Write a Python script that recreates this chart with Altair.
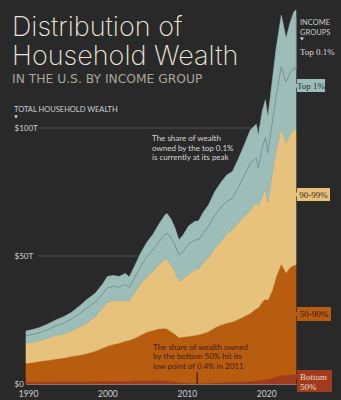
import altair as alt
import pandas as pd

# ---------------- data (trillions of US$) ----------------
years = [1989.75, 1990.5, 1991.5, 1992.5, 1993.5, 1994.5, 1995.5, 1996.5, 1997.5, 1998.5,
         1999.5, 2000.0, 2000.75, 2001.5, 2002.25, 2002.75, 2003.5, 2004.25, 2005.0, 2005.75,
         2006.5, 2007.25, 2007.5, 2008.0, 2008.5, 2009.0, 2009.5, 2010.25, 2011.0, 2011.5,
         2012.0, 2012.75, 2013.5, 2014.25, 2015.0, 2015.75, 2016.5, 2017.25, 2018.0, 2018.75,
         2019.0, 2019.5, 2019.9, 2020.2, 2020.75, 2021.25, 2021.9, 2022.5, 2023.0, 2023.5, 2023.75]

bottom50 = [0.8, 0.8, 0.85, 0.85, 0.9, 0.9, 0.95, 1.0, 1.0, 1.1,
            1.1, 1.15, 1.2, 1.2, 1.2, 1.2, 1.25, 1.3, 1.35, 1.4,
            1.4, 1.35, 1.3, 1.1, 0.9, 0.6, 0.5, 0.4, 0.3, 0.25,
            0.35, 0.4, 0.5, 0.6, 0.7, 0.8, 0.9, 1.0, 1.1, 1.3,
            1.4, 1.6, 1.75, 1.9, 2.3, 2.8, 3.4, 3.5, 3.6, 3.7, 3.7]

p50_90 = [7.3, 7.6, 8.05, 8.45, 8.9, 9.3, 9.85, 10.3, 11.0, 11.8,
          13.1, 13.65, 14.3, 14.8, 15.6, 15.9, 16.75, 17.9, 18.95, 19.6,
          20.2, 20.45, 20.3, 19.4, 18.6, 17.6, 17.9, 18.3, 18.7, 19.05,
          19.35, 20.1, 21.5, 22.4, 23.1, 23.5, 24.4, 25.5, 26.5, 28.2,
          28.4, 30.4, 31.45, 30.9, 34.2, 39.2, 43.6, 40.0, 41.9, 42.8, 42.8]

p90_99 = [7.8, 7.9, 8.1, 8.7, 9.1, 9.3, 10.0, 11.0, 12.0, 13.6,
          16.0, 17.0, 17.1, 16.5, 15.9, 15.2, 18.0, 20.3, 21.7, 23.0,
          25.2, 26.9, 27.5, 26.0, 24.5, 22.0, 22.6, 24.3, 25.8, 25.7,
          27.6, 29.0, 31.0, 32.5, 34.7, 36.2, 37.7, 39.0, 40.4, 41.5,
          39.7, 41.5, 43.1, 37.8, 45.5, 49.0, 52.9, 50.5, 52.0, 53.0, 52.8]

top1_ex = [3.0, 3.0, 3.1, 3.2, 3.8, 4.3, 4.6, 5.2, 5.9, 5.5,
           5.4, 5.8, 5.5, 5.3, 6.2, 5.4, 6.0, 6.8, 7.8, 8.4,
           8.8, 9.8, 9.8, 10.8, 10.3, 10.2, 10.6, 11.8, 11.4, 11.4,
           11.5, 12.2, 12.9, 13.3, 12.8, 12.1, 13.8, 16.0, 18.3, 17.3,
           14.9, 19.0, 20.0, 19.7, 20.0, 21.5, 24.1, 24.0, 24.0, 23.9, 23.7]

top01 = [1.8, 1.9, 2.0, 2.2, 2.3, 2.5, 2.6, 3.0, 3.3, 3.5,
         3.9, 4.4, 4.3, 4.2, 4.3, 4.1, 4.5, 5.2, 5.7, 6.1,
         6.9, 7.5, 7.7, 7.2, 6.7, 5.9, 6.4, 7.0, 7.3, 7.4,
         7.9, 8.3, 9.1, 9.7, 10.2, 10.4, 11.2, 12.0, 12.9, 13.2,
         12.6, 14.0, 14.7, 13.7, 16.0, 18.5, 20.0, 17.0, 19.5, 22.1, 23.0]

groups = ["Bottom 50%", "50-90%", "90-99%", "Top 1%", "Top 0.1%"]
colors = ["#a03c1d", "#b85d10", "#e6c27c", "#9dbeb8", "#9dbeb8"]
x_ticks = [1990, 2000, 2010, 2020]
y_ticks = [0, 50, 100]

series = [bottom50, p50_90, p90_99, top1_ex, top01]
rows = []
for gi, (g, vals) in enumerate(zip(groups, series)):
    for yr, v in zip(years, vals):
        rows.append({"year": yr, "group": g, "ord": gi, "value": v})
df = pd.DataFrame(rows)

line_df = pd.DataFrame({
    "year": years,
    "level": [a + b + c + d for a, b, c, d in zip(bottom50, p50_90, p90_99, top1_ex)],
})

# ---------------- layout constants ----------------
X0 = 26          # left padding (absolute x of plot origin)
W, H = 270, 384
BG = "#292929"
one = pd.DataFrame({"k": [0]})

xscale = alt.Scale(domain=[1989.75, 2023.75], nice=False, zero=False)
yscale = alt.Scale(domain=[0, 150], nice=False)


def txt(s, x, y, size, color, font="Lato", weight="normal", align="left",
        baseline="alphabetic", lh=None):
    kw = dict(text=s, align=align, baseline=baseline, font=font, fontSize=size,
              color=color, fontWeight=weight)
    if lh is not None:
        kw["lineHeight"] = lh
    return alt.Chart(one).mark_text(**kw).encode(x=alt.value(x - X0), y=alt.value(y))


def box(x1, x2, y1, y2, color):
    return alt.Chart(one).mark_rect(color=color).encode(
        x=alt.value(x1 - X0), x2=alt.value(x2 - X0), y=alt.value(y1), y2=alt.value(y2))


def pointer(x, y, color):
    return alt.Chart(one).mark_point(shape="triangle-left", filled=True, size=22,
                                     color=color, opacity=1).encode(
        x=alt.value(x - X0), y=alt.value(y))


def tri_down(x, y, color):
    return alt.Chart(one).mark_point(shape="triangle-down", filled=True, size=14,
                                     color=color, opacity=1).encode(
        x=alt.value(x - X0), y=alt.value(y))


def seg(x1, x2, y1, y2, color, w=0.8):
    return alt.Chart(one).mark_rule(color=color, strokeWidth=w).encode(
        x=alt.value(x1 - X0), x2=alt.value(x2 - X0), y=alt.value(y1), y2=alt.value(y2))


grid = alt.Chart(pd.DataFrame({"g": [50, 100]})).mark_rule(
    color="#5c5c5c", strokeWidth=0.8).encode(
    y=alt.Y("g:Q", scale=yscale), x=alt.value(38 - X0), x2=alt.value(W))

cscale = alt.Scale(domain=groups, range=colors)
areas = alt.Chart(df).mark_area(interpolate="linear", strokeWidth=0.6).encode(
    x=alt.X("year:Q", scale=xscale, title=None,
            axis=alt.Axis(values=x_ticks, format="d", ticks=False, grid=False,
                          domain=True, domainColor="#8a8a8a", domainWidth=1,
                          labelColor="#cfcfcf", labelFontSize=8.5, labelFont="Lato",
                          labelPadding=5)),
    y=alt.Y("value:Q", stack="zero", scale=yscale, title=None,
            axis=alt.Axis(values=y_ticks, ticks=False, grid=False, domain=False,
                          labelAlign="left", labelPadding=12, labelBaseline="middle",
                          labelColor="#d2d2d2", labelFontSize=8, labelFont="Lato",
                          labelExpr="datum.value == 0 ? '$0' : '$' + datum.value + 'T'")),
    color=alt.Color("group:N", scale=cscale, legend=None),
    stroke=alt.Stroke("group:N", scale=cscale, legend=None),
    order=alt.Order("ord:Q", sort="ascending"),
)

top_line = alt.Chart(line_df).mark_line(color="#7b9592", strokeWidth=1).encode(
    x=alt.X("year:Q", scale=xscale), y=alt.Y("level:Q", scale=yscale))

marker = alt.Chart(one).mark_rule(color="#3a1806", strokeWidth=1.2).encode(
    x=alt.datum(2011.3), y=alt.datum(0), y2=alt.datum(4.5))

layers = [
    grid, areas, top_line, marker,
    txt(["Distribution of", "Household Wealth"], 12, 36, 27, "#ebe6da",
        font="Inter", weight=200, lh=29),
    txt("IN THE U.S. BY INCOME GROUP", 12, 83, 12.3, "#a9a59b", font="DejaVu Sans"),
    txt("TOTAL HOUSEHOLD WEALTH", 14, 112, 7.5, "#d0d0d0"),
    tri_down(16, 117, "#e0e0e0"),
    txt(["The share of wealth", "owned by the top 0.1%", "is currently at its peak"],
        152, 141, 8, "#d6d6d6", lh=9.7),
    txt(["The share of wealth owned", "by the bottom 50% hit its", "low point of 0.4% in 2011"],
        153, 349.5, 8, "#43200a", lh=9.5),
    # right-hand legend
    txt(["INCOME", "GROUPS"], 300, 25, 7.5, "#c9c9c9", lh=9.5),
    tri_down(302, 39, "#e0e0e0"),
    seg(296, 296, 18, 70, "#9a9a9a"),
    seg(293, 296, 18, 18, "#9a9a9a"),
    seg(293, 296, 70, 70, "#9a9a9a"),
    txt("Top 0.1%", 300, 55, 9, "#dcdcdc", font="Liberation Serif"),
    box(297, 325, 79, 92, "#9dbeb8"), pointer(295, 85.5, "#9dbeb8"),
    txt("Top 1%", 311, 85.5, 9, "#2a2a2a", font="Liberation Serif", align="center",
        baseline="middle"),
    box(297, 330, 188, 201, "#e6c27c"), pointer(295, 194.5, "#e6c27c"),
    txt("90-99%", 313.5, 194.5, 9, "#3a2a12", font="Liberation Serif", align="center",
        baseline="middle"),
    box(297, 331, 307, 321, "#b85d10"), pointer(295, 314, "#b85d10"),
    txt("50-90%", 314, 314, 9, "#3a1805", font="Liberation Serif", align="center",
        baseline="middle"),
    box(297, 332, 370, 392, "#a03c1d"), pointer(295, 376, "#a03c1d"),
    txt(["Bottom", "50%"], 300, 377, 9, "#f2dcc6", font="Liberation Serif", lh=10,
        baseline="middle"),
]

chart = alt.layer(*layers).properties(
    width=W, height=H,
    autosize=alt.AutoSizeParams(type="none"),
    padding={"left": X0, "top": 0, "right": 341 - X0 - W, "bottom": 400 - H},
    background=BG,
).configure_view(stroke=None)

chart.save("out.html", embed_options={"renderer": "svg", "actions": False})
